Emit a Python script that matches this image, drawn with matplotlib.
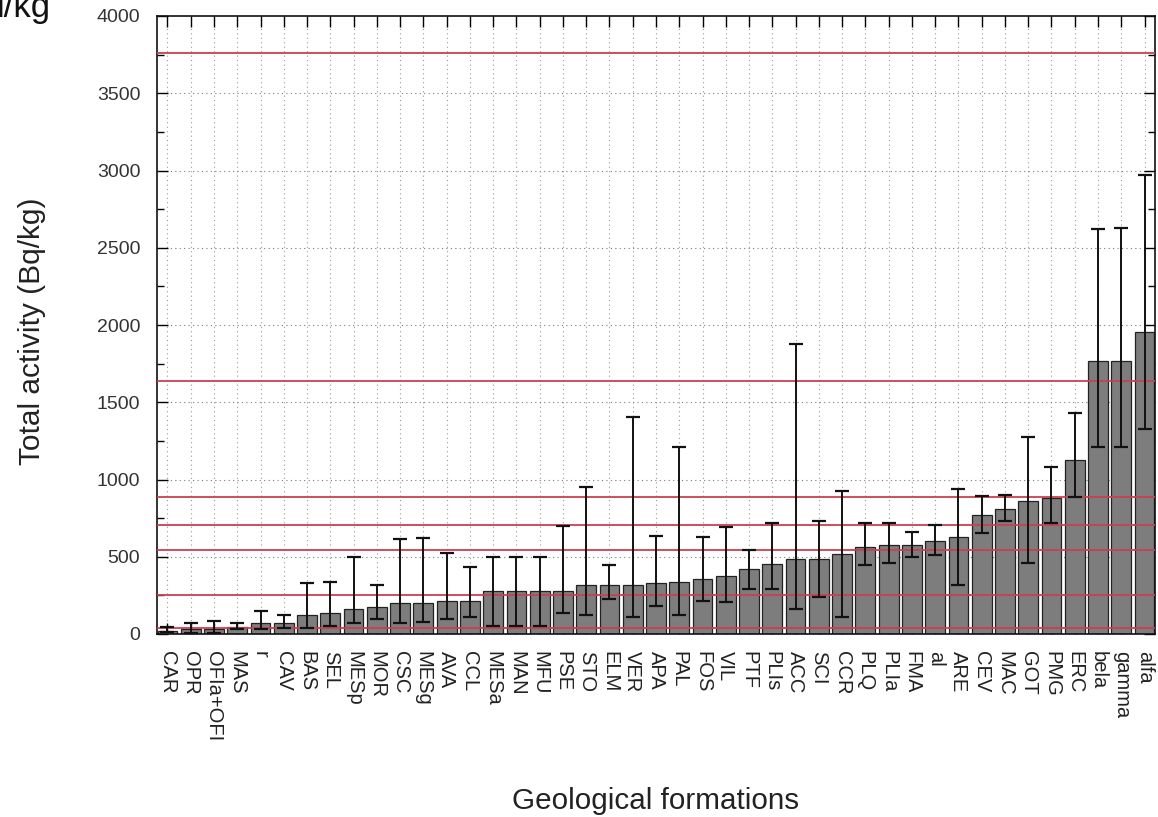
import matplotlib
matplotlib.use("Agg")
import matplotlib.pyplot as plt
import numpy as np
from matplotlib.ticker import MultipleLocator

plt.rcParams['font.family'] = ['Liberation Sans', 'DejaVu Sans']

names = ["CAR", "OPR", "OFIa+OFI", "MAS", "r", "CAV", "BAS", "SEL", "MESp", "MOR",
         "CSC", "MESg", "AVA", "CCL", "MESa", "MAN", "MFU", "PSE", "STO", "ELM",
         "VER", "APA", "PAL", "FOS", "VIL", "PTF", "PLIs", "ACC", "SCI", "CCR",
         "PLQ", "PLIa", "FMA", "al", "ARE", "CEV", "MAC", "GOT", "PMG", "ERC",
         "bela", "gamma", "alfa"]
vals = [22, 30, 35, 45, 71, 73, 123, 134, 162, 172, 203, 203, 214, 216, 278, 278,
        278, 278, 319, 319, 319, 332, 337, 358, 375, 421, 451, 485, 485, 520, 565,
        578, 578, 602, 630, 770, 811, 863, 878, 1124, 1769, 1769, 1953]
hi = [45, 69, 86, 69, 149, 123, 328, 339, 496, 315, 613, 623, 522, 433, 496, 496,
      496, 699, 949, 444, 1407, 634, 1208, 626, 690, 544, 716, 1877, 729, 924, 716,
      716, 662, 703, 936, 893, 900, 1273, 1079, 1428, 2621, 2630, 2969]
lo = [10, 5, 5, 32, 30, 41, 41, 54, 69, 95, 73, 80, 95, 109, 54, 54, 54, 134, 123,
      224, 108, 183, 121, 216, 209, 289, 289, 160, 242, 108, 444, 457, 500, 511, 315,
      652, 729, 460, 716, 885, 1212, 1212, 1325]
ref_lines = [3763, 1635, 884, 705, 546, 250, 42]
yticks = [0, 500, 1000, 1500, 2000, 2500, 3000, 3500, 4000]

W, H = 1158, 817
fig = plt.figure(figsize=(W / 100, H / 100), dpi=100)
ax = fig.add_axes([157 / W, 1 - 634 / H, (1155 - 157) / W, (634 - 16) / H])

x = np.arange(len(names))
vals_a = np.array(vals)
hi_a = np.array(hi)
lo_a = np.array(lo)

ax.set_xlim(-0.45, len(names) - 0.55)
ax.set_ylim(0, 4000)

# grid
for xi in x:
    ax.axvline(xi, color='#9a9a9a', lw=0.8, ls=(0, (1, 3)), zorder=0)
for yv in yticks[1:-1]:
    ax.axhline(yv, color='#7a7a7a', lw=0.8, ls=(0, (1, 3)), zorder=0)

ax.bar(x, vals_a, width=0.85, color='#7d7d7d', edgecolor='#222222', linewidth=0.9, zorder=2)

for rv in ref_lines:
    ax.axhline(rv, color='#c9404f', lw=1.3, zorder=3)

ax.errorbar(x, vals_a, yerr=[vals_a - lo_a, hi_a - vals_a], fmt='none',
            ecolor='#111111', elinewidth=1.4, capsize=5, capthick=1.6, zorder=4)

ax.set_yticks(yticks)
ax.set_yticklabels([str(v) for v in yticks], fontsize=14, color='#333333')
ax.yaxis.set_minor_locator(MultipleLocator(250))
ax.set_xticks(x)
ax.set_xticklabels(names, rotation=-90, fontsize=14.5, color='#222222', va='top', ha='center')
ax.tick_params(axis='y', which='major', direction='in', length=8, width=1, right=True, pad=12)
ax.tick_params(axis='y', which='minor', direction='in', length=5, width=1, right=True)
ax.tick_params(axis='x', which='major', direction='in', length=8, width=1, top=True, pad=12)

for s in ax.spines.values():
    s.set_linewidth(1.2)
    s.set_color('#111111')

fig.text(32 / W, 1 - 331 / H, "Total activity (Bq/kg)", fontsize=21.5, color='#222222',
         rotation=90, ha='center', va='center')
fig.text(656 / W, 1 - 809 / H, "Geological formations", fontsize=21.3, color='#222222',
         ha='center', va='baseline')
fig.text(-3 / W, 1 - 17 / H, "l/kg", fontsize=25, color='#111111', ha='left', va='baseline')

fig.savefig("out.png", dpi=100)
